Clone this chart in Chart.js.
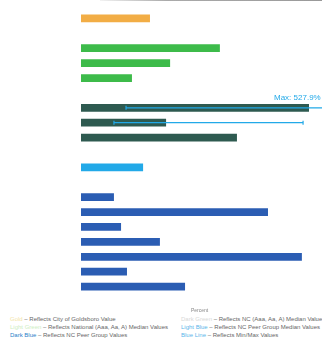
<!DOCTYPE html>
<html>
<head>
<meta charset="utf-8">
<script src="https://cdn.jsdelivr.net/npm/chart.js@4.4.1/dist/chart.umd.min.js"></script>
<style>
  html, body { margin: 0; padding: 0; background: #fff; width: 322px; height: 344px; overflow: hidden; font-family: "Liberation Sans", Arial, sans-serif; }
  #wrap { position: absolute; left: 0; top: 0; width: 322px; height: 316px; }
  #topline { position: absolute; left: 100px; top: 0; width: 222px; height: 1px; background: linear-gradient(to right, #f2f2f2, #aaa 30%, #999); }
  .leg { position: absolute; font-size: 6px; color: #666; white-space: nowrap; line-height: 7px; }
</style>
</head>
<body>
<div id="topline"></div>
<div id="wrap"><canvas id="c" width="322" height="316"></canvas></div>
<div class="leg" style="left:10px; top:316px;"><span style="color:#f3e6a8">Gold</span> – Reflects City of Goldsboro Value</div>
<div class="leg" style="left:10px; top:324px;"><span style="color:#cdeec4">Light Green</span> – Reflects National (Aaa, Aa, A) Median Values</div>
<div class="leg" style="left:10px; top:332px;"><span style="color:#2a7fc9">Dark Blue</span> – Reflects NC Peer Group Values</div>
<div class="leg" style="left:181px; top:316px;"><span style="color:#d8d8d8">Dark Green</span> – Reflects NC (Aaa, Aa, A) Median Values</div>
<div class="leg" style="left:181px; top:324px;"><span style="color:#5bb6ea">Light Blue</span> – Reflects NC Peer Group Median Values</div>
<div class="leg" style="left:181px; top:332px;"><span style="color:#5bb6ea">Blue Line</span> – Reflects Min/Max Values</div>
<script>
// Categories (y-axis labels are unreadable in the reference; spacer rows are blank)
const categories = ["", "", "", "", "", "", "", "", "", "", "", "", "", "", "", "", "", "", ""];
// Percent values per row (null = spacer row)
const values = [29.1, null, 58.6, 37.6, 21.5, null, 96.2, 35.9, 65.8, null, 26.2, null, 13.9, 78.9, 16.9, 33.3, 93.2, 19.4, 43.9];
// Row groups: 0 gold, 1 green, 2 dark green, 3 light blue, 4 dark blue
const groups = [0, null, 1, 1, 1, null, 2, 2, 2, null, 3, null, 4, 4, 4, 4, 4, 4, 4];
const groupColors = ["#f2ad45", "#3dbb4a", "#2e5a50", "#22a9e8", "#2b5db3"];
// Min / Max values (blue lines)
const errMin = [null, null, null, null, null, null, 19.0, 13.9, null, null, null, null, null, null, null, null, null, null, null];
const errMax = [null, null, null, null, null, null, 527.9, 93.7, null, null, null, null, null, null, null, null, null, null, null];
const xMax = 100;

const colors = groups.map(g => g === null ? "rgba(0,0,0,0)" : groupColors[g]);

const errPlugin = {
  id: "errbars",
  afterDatasetsDraw(chart) {
    const ctx = chart.ctx;
    const xs = chart.scales.x, ys = chart.scales.y;
    const area = chart.chartArea;
    ctx.save();
    ctx.strokeStyle = "#22a9e8";
    ctx.fillStyle = "#22a9e8";
    ctx.lineWidth = 1.2;
    for (let i = 0; i < errMin.length; i++) {
      if (errMin[i] === null) continue;
      const y = ys.getPixelForValue(i);
      const x0 = xs.getPixelForValue(errMin[i]);
      const clipped = errMax[i] > xMax;
      const x1 = clipped ? area.right + 4 : xs.getPixelForValue(errMax[i]);
      ctx.beginPath();
      ctx.moveTo(x0, y); ctx.lineTo(x1, y);
      ctx.moveTo(x0, y - 2); ctx.lineTo(x0, y + 2);
      if (!clipped) { ctx.moveTo(x1, y - 2); ctx.lineTo(x1, y + 2); }
      ctx.stroke();
      if (clipped) {
        ctx.font = "8px 'Liberation Sans', Arial, sans-serif";
        ctx.textAlign = "left";
        ctx.textBaseline = "middle";
        ctx.fillText("Max: " + errMax[i] + "%", area.right - 44, y - 10);
      }
    }
    ctx.restore();
  }
};

new Chart(document.getElementById("c"), {
  type: "bar",
  data: {
    labels: categories,
    datasets: [{
      data: values,
      backgroundColor: colors,
      borderWidth: 0,
      categoryPercentage: 1.0,
      barPercentage: 0.52
    }]
  },
  options: {
    indexAxis: "y",
    responsive: false,
    animation: false,
    devicePixelRatio: 1,
    layout: { padding: { left: 0, right: 4, top: 11, bottom: 0 } },
    plugins: { legend: { display: false }, tooltip: { enabled: false } },
    scales: {
      x: {
        min: 0, max: xMax,
        grid: { display: false },
        border: { display: false },
        ticks: { display: false },
        title: { display: true, text: "Percent", color: "#888", font: { size: 5, family: "'Liberation Sans', Arial, sans-serif" }, padding: { top: 6, bottom: 2 } }
      },
      y: {
        grid: { display: false },
        border: { display: false },
        ticks: { color: "#eee", font: { size: 6 } },
        afterFit(scale) { scale.width = 81; }
      }
    }
  },
  plugins: [errPlugin]
});
</script>
</body>
</html>
